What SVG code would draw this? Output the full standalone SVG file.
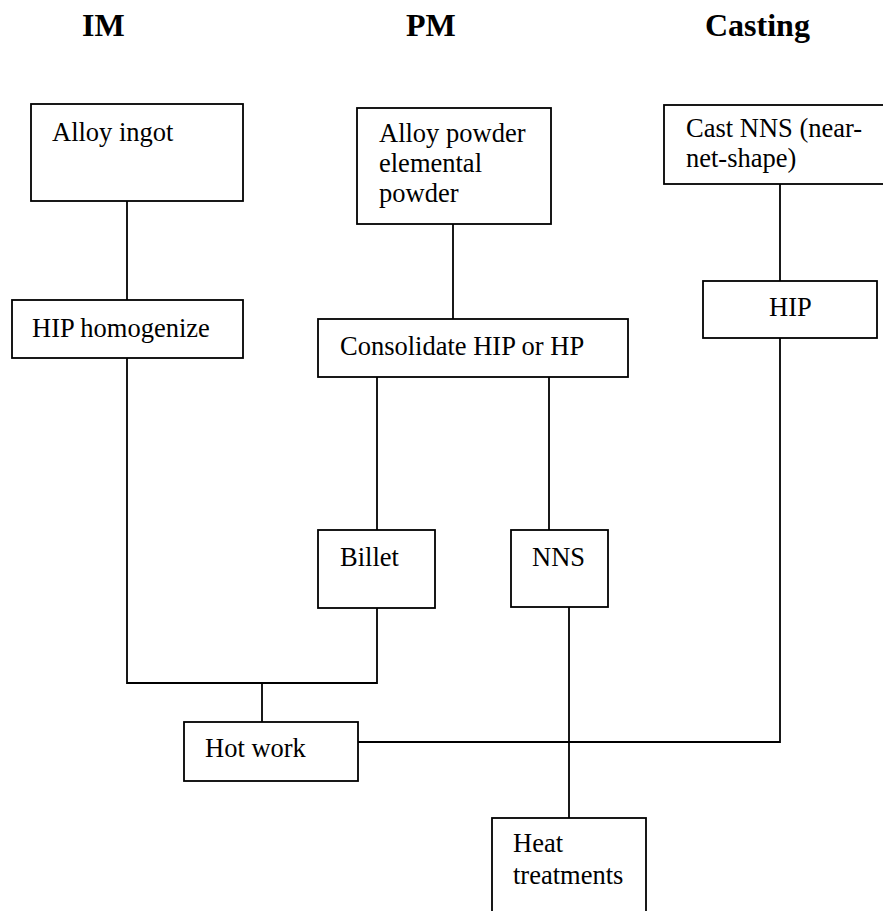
<svg xmlns="http://www.w3.org/2000/svg" width="883" height="911" viewBox="0 0 883 911">
<style>
.box{fill:#fff;stroke:#000;stroke-width:1.8}
.ln{fill:none;stroke:#000;stroke-width:1.8}
text{font-family:"Liberation Serif","Times New Roman",serif;font-size:26.5px;fill:#000}
.title{font-weight:bold;font-size:32px}
</style>
<rect width="883" height="911" fill="#fff"/>
<g id="titles">
<text class="title" x="82" y="36">IM</text>
<text class="title" x="406" y="36">PM</text>
<text class="title" x="705" y="36">Casting</text>
</g>
<g id="connectors">
<path class="ln" d="M127 201V300"/>
<path class="ln" d="M453 224V319"/>
<path class="ln" d="M780 184V281"/>
<path class="ln" d="M127 358V683H377V608"/>
<path class="ln" d="M262 683V722"/>
<path class="ln" d="M377 377V530"/>
<path class="ln" d="M549 377V530"/>
<path class="ln" d="M569 607V818"/>
<path class="ln" d="M780 338V742H358"/>
</g>
<g id="ingot"><rect class="box" x="31" y="104" width="212" height="97"/><text x="52" y="141">Alloy ingot</text></g>
<g id="powder"><rect class="box" x="357" y="108" width="194" height="116"/><text x="379" y="142">Alloy powder</text><text x="379" y="172">elemental</text><text x="379" y="202">powder</text></g>
<g id="castnns"><rect class="box" x="664" y="105" width="240" height="79"/><text x="686" y="137">Cast NNS (near-</text><text x="686" y="167">net-shape)</text></g>
<g id="hiphom"><rect class="box" x="12" y="300" width="231" height="58"/><text x="32" y="337">HIP homogenize</text></g>
<g id="consolidate"><rect class="box" x="318" y="319" width="310" height="58"/><text x="340" y="355">Consolidate HIP or HP</text></g>
<g id="hip"><rect class="box" x="703" y="281" width="174" height="57"/><text x="769" y="316">HIP</text></g>
<g id="billet"><rect class="box" x="318" y="530" width="117" height="78"/><text x="340" y="566">Billet</text></g>
<g id="nns"><rect class="box" x="511" y="530" width="97" height="77"/><text x="532" y="566">NNS</text></g>
<g id="hotwork"><rect class="box" x="184" y="722" width="174" height="59"/><text x="205" y="757">Hot work</text></g>
<g id="heat"><rect class="box" x="492" y="818" width="154" height="120"/><text x="513" y="852">Heat</text><text x="513" y="884">treatments</text></g>
</svg>
